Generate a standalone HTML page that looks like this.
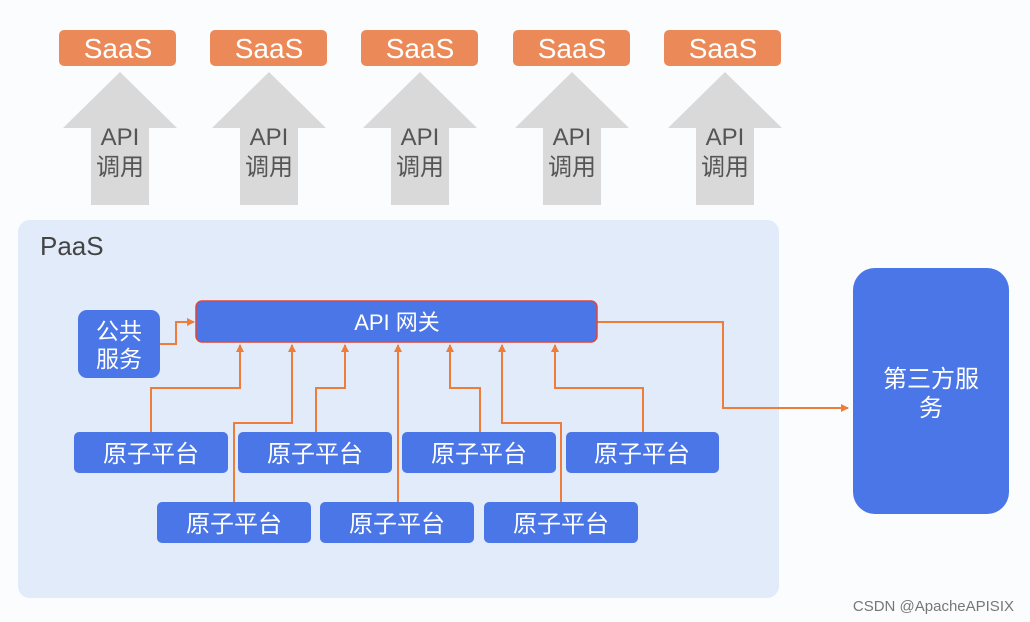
<!DOCTYPE html>
<html><head><meta charset="utf-8"><style>
html,body{margin:0;padding:0;background:#fbfcfe;}
svg{display:block}
text{font-family:"Liberation Sans","Noto Sans CJK SC",sans-serif;}
</style></head><body>
<svg width="1030" height="622" viewBox="0 0 1030 622" xmlns="http://www.w3.org/2000/svg">
<rect width="1030" height="622" fill="#fbfcfe"/>
<defs>
<marker id="ah" markerWidth="8" markerHeight="8" refX="7" refY="4" orient="auto" markerUnits="userSpaceOnUse"><path d="M0,0 L8,4 L0,8 z" fill="#ee7d3a"/></marker>
<g id="arr"><path d="M0,-133 L57,-77 L29,-77 L29,0 L-29,0 L-29,-77 L-57,-77 z" fill="#d9d9d9"/></g>
</defs>
<g font-size="28" fill="#fff" text-anchor="middle">
<rect x="59" y="30" width="117" height="36" rx="5" fill="#eb8a58"/><text x="118" y="58">SaaS</text>
<rect x="210" y="30" width="117" height="36" rx="5" fill="#eb8a58"/><text x="269" y="58">SaaS</text>
<rect x="361" y="30" width="117" height="36" rx="5" fill="#eb8a58"/><text x="420" y="58">SaaS</text>
<rect x="513" y="30" width="117" height="36" rx="5" fill="#eb8a58"/><text x="572" y="58">SaaS</text>
<rect x="664" y="30" width="117" height="36" rx="5" fill="#eb8a58"/><text x="723" y="58">SaaS</text>
</g>
<use href="#arr" x="120" y="205"/><use href="#arr" x="269" y="205"/><use href="#arr" x="420" y="205"/><use href="#arr" x="572" y="205"/><use href="#arr" x="725" y="205"/>
<g font-size="24" fill="#555" text-anchor="middle">
<text x="120" y="145">API</text><text x="120" y="175">调用</text>
<text x="269" y="145">API</text><text x="269" y="175">调用</text>
<text x="420" y="145">API</text><text x="420" y="175">调用</text>
<text x="572" y="145">API</text><text x="572" y="175">调用</text>
<text x="725" y="145">API</text><text x="725" y="175">调用</text>
</g>
<rect x="18" y="220" width="761" height="378" rx="12" fill="#e2ebfa"/>
<text x="40" y="255" font-size="26" fill="#444">PaaS</text>
<g fill="none" stroke="#ee7d3a" stroke-width="2" marker-end="url(#ah)">
<path d="M160,344 H176 V322 H194"/>
<path d="M151,432 V388 H240 V345"/>
<path d="M234,502 V423 H292 V345"/>
<path d="M316,432 V388 H345 V345"/>
<path d="M398,502 V345"/>
<path d="M480,432 V388 H450 V345"/>
<path d="M561,502 V423 H502 V345"/>
<path d="M643,432 V388 H555 V345"/>
<path d="M597,322 H723 V408 H848"/>
</g>
<rect x="196" y="301" width="401" height="41" rx="6" fill="#4a76e8" stroke="#e0463c" stroke-width="1.5"/>
<text x="397" y="330" font-size="22" fill="#fff" text-anchor="middle">API 网关</text>
<rect x="78" y="310" width="82" height="68" rx="9" fill="#4a76e8"/>
<text x="119" y="339" font-size="23" fill="#fff" text-anchor="middle">公共</text>
<text x="119" y="367" font-size="23" fill="#fff" text-anchor="middle">服务</text>
<g fill="#4a76e8">
<rect x="74" y="432" width="154" height="41" rx="5"/><rect x="238" y="432" width="154" height="41" rx="5"/><rect x="402" y="432" width="154" height="41" rx="5"/><rect x="566" y="432" width="153" height="41" rx="5"/>
<rect x="157" y="502" width="154" height="41" rx="5"/><rect x="320" y="502" width="154" height="41" rx="5"/><rect x="484" y="502" width="154" height="41" rx="5"/>
</g>
<g font-size="24" fill="#fff" text-anchor="middle">
<text x="151" y="462">原子平台</text><text x="315" y="462">原子平台</text><text x="479" y="462">原子平台</text><text x="642" y="462">原子平台</text>
<text x="234" y="532">原子平台</text><text x="397" y="532">原子平台</text><text x="561" y="532">原子平台</text>
</g>
<rect x="853" y="268" width="156" height="246" rx="22" fill="#4a76e8"/>
<text x="931" y="387" font-size="24" fill="#fff" text-anchor="middle">第三方服</text>
<text x="931" y="416" font-size="24" fill="#fff" text-anchor="middle">务</text>
<text x="1014" y="611" font-size="15" fill="#777" text-anchor="end">CSDN @ApacheAPISIX</text>
</svg>
</body></html>
